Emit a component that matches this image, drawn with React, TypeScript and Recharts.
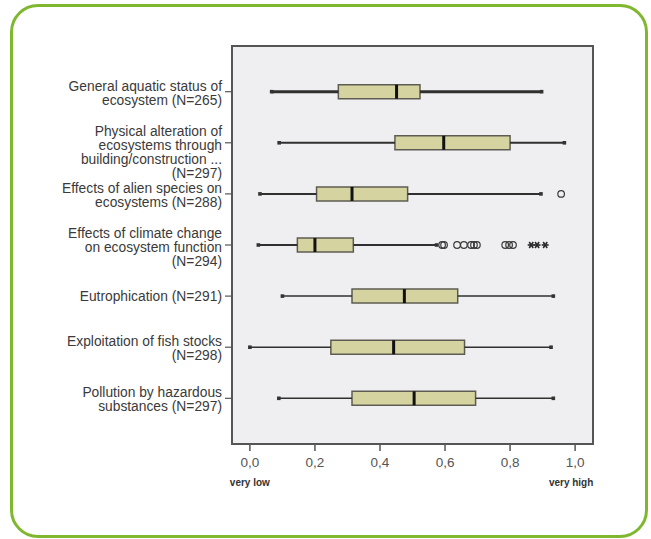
import { ComposedChart, XAxis, YAxis, CartesianGrid, ReferenceArea, ReferenceLine, Scatter } from 'recharts';

// categories (one entry per row, lines of the wrapped label)
const categoryLabels = [
    ['General aquatic status of', 'ecosystem (N=265)'],
    ['Physical alteration of', 'ecosystems through', 'building/construction ...', '(N=297)'],
    ['Effects of alien species on', 'ecosystems (N=288)'],
    ['Effects of climate change', 'on ecosystem function', '(N=294)'],
    ['Eutrophication (N=291)'],
    ['Exploitation of fish stocks', '(N=298)'],
    ['Pollution by hazardous', 'substances (N=297)'],
];

const whiskerLow = [0.067, 0.09, 0.031, 0.026, 0.1, 0.0, 0.089];
const quartile1 = [0.272, 0.446, 0.205, 0.146, 0.314, 0.249, 0.314];
const medians = [0.451, 0.596, 0.314, 0.2, 0.475, 0.442, 0.505];
const quartile3 = [0.523, 0.8, 0.485, 0.318, 0.639, 0.66, 0.694];
const whiskerHigh = [0.897, 0.967, 0.895, 0.574, 0.933, 0.926, 0.933];

// outliers (circles) and extremes (stars)
const alienOutliers = [0.957];
const climateOutliers = [0.591, 0.597, 0.637, 0.658, 0.68, 0.689, 0.698, 0.785, 0.797, 0.809];
const climateExtremes = [0.865, 0.883, 0.908];

const tickValues = [0, 0.2, 0.4, 0.6, 0.8, 1.0];
const tickNotes = ['very low', '', '', '', '', 'very high'];

const xDomain = [-0.055, 1.055];
const yDomain = [-0.894, 6.894];
const whiskerWidths = [3, 2, 2, 2, 1.5, 1.5, 1.5];
const halfBox = 0.137;

const outlierPoints = [
    ...alienOutliers.map((x) => ({ x, y: 2 })),
    ...climateOutliers.map((x) => ({ x, y: 3 })),
];
const extremePoints = climateExtremes.map((x) => ({ x, y: 3 }));
const capPoints = categoryLabels.flatMap((_, i) => [
    { x: whiskerLow[i], y: i },
    { x: whiskerHigh[i], y: i },
]);

const FONT = '"Liberation Sans", Arial, sans-serif';

function CategoryTick({ x, y, payload }: any) {
    const lines = categoryLabels[payload.value] ?? [];
    const first = -Math.min(lines.length - 1, 2) * 6;
    return (
        <text x={x} y={y} textAnchor="end" fill="#3a3a3a" fontSize={13.8} fontFamily={FONT}>
            {lines.map((l, i) => (
                <tspan key={i} x={x} dy={i === 0 ? first + 5 : 14}>{l}</tspan>
            ))}
        </text>
    );
}

function ValueTick({ x, y, payload }: any) {
    const idx = tickValues.indexOf(payload.value);
    return (
        <g>
            <text x={x} y={y + 14} textAnchor="middle" fill="#555" fontSize={13.5} fontFamily={FONT}>
                {payload.value.toFixed(1).replace('.', ',')}
            </text>
            {tickNotes[idx] ? (
                <text x={idx === 0 ? x : x - 4} y={y + 33} textAnchor="middle" fill="#333" fontSize={10} fontWeight="bold" fontFamily={FONT}>
                    {tickNotes[idx]}
                </text>
            ) : null}
        </g>
    );
}

const OpenCircle = ({ cx, cy }: any) => (
    <circle cx={cx} cy={cy} r={3.3} fill="none" stroke="#3a3a3a" strokeWidth={1.2} />
);

const Star = ({ cx, cy }: any) => (
    <g stroke="#2a2a2a" strokeWidth={1.6}>
        <line x1={cx - 3.5} y1={cy} x2={cx + 3.5} y2={cy} />
        <line x1={cx - 2} y1={cy - 3} x2={cx + 2} y2={cy + 3} />
        <line x1={cx - 2} y1={cy + 3} x2={cx + 2} y2={cy - 3} />
    </g>
);

const Cap = ({ cx, cy }: any) => <rect x={cx - 1.8} y={cy - 1.8} width={3.6} height={3.6} fill="#333" />;

export default function App() {
    return (
        <div style={{ position: 'relative', width: 651, height: 539, background: '#fff' }}>
            <style>{'body{margin:0}'}</style>
            <div
                style={{
                    position: 'absolute', left: 10, top: 4, width: 638, height: 534, boxSizing: 'border-box',
                    border: '3px solid #7fb72f', borderRadius: 28,
                }}
            />
            <div style={{ position: 'absolute', left: 0, top: 0 }}>
                <ComposedChart width={651} height={539} margin={{ top: 46, right: 58, bottom: 0, left: 0 }}>
                    <CartesianGrid horizontal={false} vertical={false} fill="#efeff1" />
                    <XAxis
                        type="number" dataKey="x" domain={xDomain} allowDataOverflow ticks={tickValues}
                        height={95} tickSize={7} tickMargin={2} tick={<ValueTick />}
                        axisLine={{ stroke: '#555', strokeWidth: 2 }} tickLine={{ stroke: '#555', strokeWidth: 1.5 }}
                    />
                    <YAxis
                        type="number" dataKey="y" domain={yDomain} allowDataOverflow reversed
                        ticks={[0, 1, 2, 3, 4, 5, 6]} interval={0} width={232} tickSize={7} tickMargin={3}
                        tick={<CategoryTick />} axisLine={{ stroke: '#555', strokeWidth: 2 }}
                        tickLine={{ stroke: '#555', strokeWidth: 1.2 }}
                    />
                    {/* plot frame */}
                    <ReferenceArea
                        x1={xDomain[0]} x2={xDomain[1]} y1={yDomain[0]} y2={yDomain[1]}
                        fill="none" stroke="#555" strokeWidth={2} ifOverflow="visible"
                    />
                    {categoryLabels.map((_, i) => (
                        <ReferenceLine
                            key={`wl${i}`}
                            segment={[{ x: whiskerLow[i], y: i }, { x: quartile1[i], y: i }]}
                            stroke="#303030" strokeWidth={whiskerWidths[i]}
                        />
                    ))}
                    {categoryLabels.map((_, i) => (
                        <ReferenceLine
                            key={`wh${i}`}
                            segment={[{ x: quartile3[i], y: i }, { x: whiskerHigh[i], y: i }]}
                            stroke="#303030" strokeWidth={whiskerWidths[i]}
                        />
                    ))}
                    {categoryLabels.map((_, i) => (
                        <ReferenceArea
                            key={`box${i}`}
                            x1={quartile1[i]} x2={quartile3[i]} y1={i - halfBox} y2={i + halfBox}
                            fill="#d5d4a1" fillOpacity={1} stroke="#5e5c52" strokeWidth={1.5}
                        />
                    ))}
                    {categoryLabels.map((_, i) => (
                        <ReferenceLine
                            key={`med${i}`}
                            segment={[{ x: medians[i], y: i - halfBox }, { x: medians[i], y: i + halfBox }]}
                            stroke="#111" strokeWidth={3}
                        />
                    ))}
                    <Scatter data={capPoints} shape={<Cap />} isAnimationActive={false} />
                    <Scatter data={outlierPoints} shape={<OpenCircle />} isAnimationActive={false} />
                    <Scatter data={extremePoints} shape={<Star />} isAnimationActive={false} />
                </ComposedChart>
            </div>
        </div>
    );
}
